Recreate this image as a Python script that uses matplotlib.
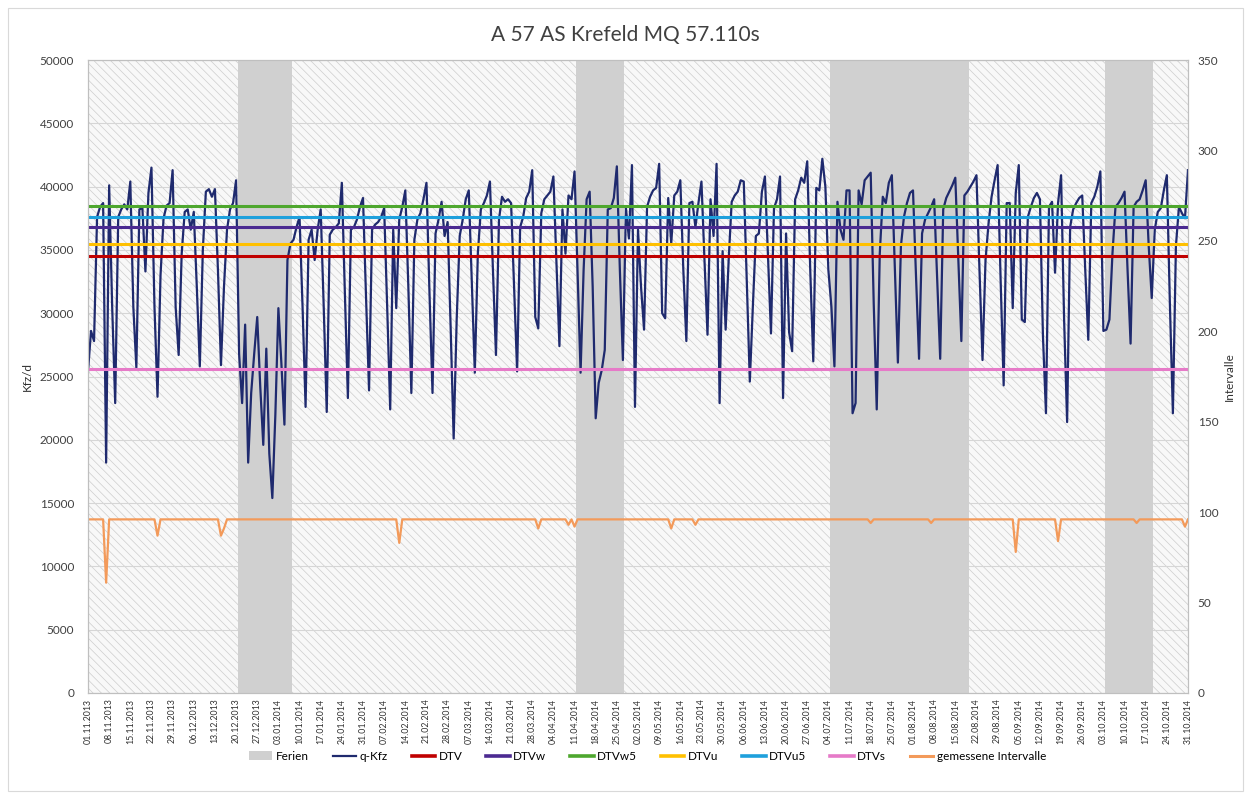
import numpy as np
import pandas as pd
import matplotlib
matplotlib.use('Agg')
import matplotlib.pyplot as plt
from matplotlib.patches import Rectangle, Patch
from matplotlib.lines import Line2D

plt.rcParams['font.family'] = ['Lato', 'DejaVu Sans']
plt.rcParams['hatch.linewidth'] = 0.5

# --- data -------------------------------------------------------------
start_date = '2013-11-01'

# daily traffic volume (Kfz/d), one row per week starting Friday 01.11.2013
q_kfz = [
    25400, 28600, 27800, 37600, 38400, 38700, 18200,
    40100, 30500, 22900, 37600, 38200, 38600, 38200,
    40400, 30500, 25700, 38200, 38300, 33300, 39500,
    41500, 30500, 23400, 33000, 37500, 38500, 38700,
    41300, 30500, 26700, 34700, 38000, 38200, 36600,
    38000, 32100, 25800, 35000, 39600, 39800, 39200,
    39800, 33400, 25900, 32100, 36600, 38200, 38700,
    40500, 26800, 22900, 29100, 18200, 23700, 26800,
    29700, 24200, 19600, 27200, 18900, 15400, 22000,
    30400, 26000, 21200, 34200, 35500, 35800, 36800,
    37600, 30500, 22600, 35800, 36600, 34200, 36600,
    38200, 30500, 22200, 36200, 36600, 36800, 37100,
    40300, 31600, 23300, 36600, 36800, 37400, 38400,
    39100, 31300, 23900, 36600, 37000, 37200, 37600,
    38300, 30500, 22400, 36600, 30400, 37400, 38400,
    39700, 32100, 23700, 35800, 37400, 37900, 39000,
    40300, 31600, 23700, 36300, 37400, 38800, 36100,
    37200, 28900, 20100, 29500, 36100, 37400, 39000,
    39700, 32600, 25300, 34700, 38200, 38700, 39300,
    40400, 33400, 26700, 37400, 39200, 38800, 39000,
    38700, 32100, 25400, 36800, 37600, 39100, 39600,
    41300, 29700, 28800, 37900, 39000, 39300, 39600,
    40800, 34000, 27400, 38200, 34700, 39300, 39000,
    41200, 33200, 25300, 33400, 39000, 39600, 32100,
    21700, 24500, 25500, 27100, 38200, 38300, 39100,
    41600, 33400, 26300, 38300, 35900, 41700, 22600,
    36600, 32100, 28700, 38400, 39200, 39700, 39900,
    41800, 30000, 29600, 39100, 35500, 39300, 39600,
    40500, 33400, 27800, 38700, 38800, 36800, 38700,
    40400, 34200, 28300, 39000, 36100, 41800, 22900,
    34900, 28700, 34200, 38800, 39300, 39600, 40500,
    40400, 32600, 24600, 30500, 36100, 36300, 39600,
    40800, 34700, 28400, 38300, 39000, 40800, 23300,
    36300, 28500, 27000, 39000, 39700, 40700, 40300,
    42000, 33400, 26200, 39900, 39700, 42200, 40000,
    33400, 30500, 25800, 38800, 36600, 35800, 39700,
    39700, 22100, 22900, 39700, 38600, 40500, 40800,
    41100, 30800, 22400, 34700, 39200, 38700, 40300,
    40900, 33400, 26100, 35300, 37600, 38700, 39500,
    39700, 32900, 26400, 36300, 37400, 37900, 38400,
    39000, 32600, 26400, 38200, 39100, 39600, 40100,
    40700, 34200, 27800, 39300, 39600, 40000, 40400,
    40900, 33400, 26300, 34200, 37100, 39200, 40500,
    41700, 32600, 24300, 38700, 38700, 30400, 39500,
    41700, 29500, 29300, 37600, 38400, 39100, 39500,
    39000, 28200, 22100, 38400, 38800, 33200, 38700,
    40900, 29500, 21400, 36800, 38200, 38700, 39100,
    39300, 33400, 27900, 38700, 39200, 40000, 41200,
    28600, 28700, 29500, 34700, 38400, 38700, 39100,
    39600, 33400, 27600, 38400, 38800, 39000, 39700,
    40500, 35300, 31200, 36600, 38000, 38300, 39700,
    40900, 30800, 22100, 35300, 38400, 37900, 37500,
    41300,
]

intervalle_full = 96
intervalle_dips = {
    '2013-11-07': 61, '2013-11-24': 87, '2013-12-15': 87, '2013-12-16': 91,
    '2014-02-12': 83, '2014-03-30': 91, '2014-04-09': 93, '2014-04-11': 92,
    '2014-05-13': 91, '2014-05-21': 93, '2014-07-18': 94, '2014-08-07': 94,
    '2014-09-04': 78, '2014-09-18': 84, '2014-10-14': 94, '2014-10-30': 92,
}

dtv_names = ['DTV', 'DTVw', 'DTVw5', 'DTVu', 'DTVu5', 'DTVs']
dtv_values = [34500, 36800, 38500, 35500, 37600, 25600]
dtv_colors = ['#c00000', '#4b2a91', '#4ea72e', '#ffc000', '#1ea0dc', '#e67ac8']

ferien = [('2013-12-21', '2014-01-07'), ('2014-04-12', '2014-04-27'),
          ('2014-07-05', '2014-08-19'), ('2014-10-04', '2014-10-19')]

# --- figure -----------------------------------------------------------
days = pd.date_range(start_date, periods=len(q_kfz), freq='D')
intervalle = pd.Series(intervalle_full, index=days, dtype=float)
for d, v in intervalle_dips.items():
    intervalle[pd.Timestamp(d)] = v

fig = plt.figure(figsize=(12.5, 7.96), dpi=100)
fig.patches.append(Rectangle((0.006, 0.006), 0.988, 0.984, transform=fig.transFigure,
                             fill=False, edgecolor='#d9d9d9', linewidth=0.8))
ax = fig.add_axes([0.0704, 0.1294, 0.88, 0.7952])
ax2 = ax.twinx()

ax.add_patch(Rectangle((0, 0), 1, 1, transform=ax.transAxes, facecolor='#f8f8f8',
                       edgecolor='#cdcdcd', hatch='\\\\\\\\', linewidth=0, zorder=0.1))
ax.set_axisbelow(True)
ax.grid(axis='y', color='#d6d6d6', linewidth=0.8, zorder=0.5)

half = pd.Timedelta(hours=12)
for s, e in ferien:
    ax.axvspan(pd.Timestamp(s) - half, pd.Timestamp(e) + half,
               color='#d0d0d0', linewidth=0, zorder=0.8)

ax.plot(days, q_kfz, color='#1f2a6e', linewidth=1.6, zorder=2)
for name, val, col in zip(dtv_names, dtv_values, dtv_colors):
    ax.plot([days[0], days[-1]], [val, val], color=col, linewidth=2.2, zorder=3)

ax2.plot(intervalle.index, intervalle.values, color='#f39a5a', linewidth=1.6)

ax.set_xlim(days[0], days[-1])
ax.set_ylim(0, 50000)
ax2.set_ylim(0, 350)
ax.set_yticks(np.arange(0, 50001, 5000))
ax2.set_yticks(np.arange(0, 351, 50))
ticks = days[::7]
ax.set_xticks(ticks)
ax.set_xticklabels([t.strftime('%d.%m.%Y') for t in ticks], rotation=90, fontsize=6.3,
                   color='#303030')
ax.tick_params(axis='y', labelsize=8.5, colors='#404040', length=0, pad=10)
ax2.tick_params(axis='y', labelsize=8.5, colors='#404040', length=0, pad=7)
ax.tick_params(axis='x', length=0, pad=4)

for a in (ax, ax2):
    for sp in a.spines.values():
        sp.set_color('#bfbfbf')
        sp.set_linewidth(0.8)

ax.set_ylabel('Kfz/d', fontsize=8.5, color='#303030', labelpad=5)
ax2.set_ylabel('Intervalle', fontsize=8.5, color='#303030', labelpad=4, rotation=90)

fig.suptitle('A 57 AS Krefeld MQ 57.110s', y=0.968, fontsize=15, color='#404040')

handles = [Patch(facecolor='#d0d0d0', edgecolor='none'),
           Line2D([], [], color='#1f2a6e', linewidth=1.6)]
handles += [Line2D([], [], color=c, linewidth=2.6) for c in dtv_colors]
handles += [Line2D([], [], color='#f39a5a', linewidth=2.2)]
labels = ['Ferien', 'q-Kfz'] + dtv_names + ['gemessene Intervalle']
fig.legend(handles, labels, loc='center', bbox_to_anchor=(0.518, 0.05), ncol=9,
           frameon=False, fontsize=8.5, handlelength=2.0,
           columnspacing=2.0, handletextpad=0.3)

fig.savefig('out.png', dpi=100)
